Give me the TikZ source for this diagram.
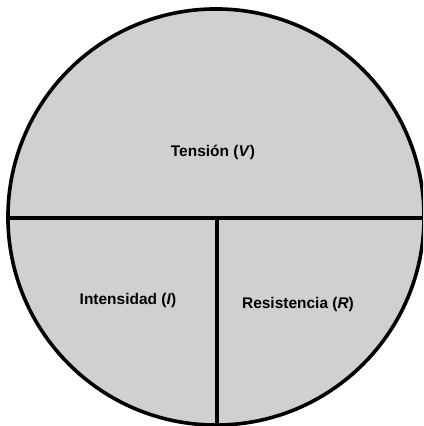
\documentclass[tikz,border=0pt]{standalone}
\usepackage{fontspec}
\setmainfont{Liberation Sans}
\usetikzlibrary{positioning}
\definecolor{discgray}{RGB}{208,208,208}

\begin{document}
\begin{tikzpicture}[
        x=0.025cm, y=-0.025cm,
        disc/.style={draw=black, fill=discgray, line width=0.9mm},
        divider/.style={draw=black, line width=0.8mm},
        quantity/.style={font=\fontsize{11}{13}\selectfont\bfseries, inner sep=1pt},
    ]
        \clip (0,0) rectangle (423,426);
        \fill[white] (0,0) rectangle (423,426);

        \coordinate (O) at (216,217);
        \draw[disc] (O) circle[radius=5.2cm];

        % dividing lines
        \coordinate (W) at (0,218);
        \coordinate (E) at (423,218);
        \coordinate (M) at (217,218);
        \coordinate (S) at (217,426);
        \begin{scope}
            \clip (O) circle[radius=5.2cm];
            \draw[divider] (W) -- (E);
            \draw[divider] (M) -- (S);
        \end{scope}

        \node[quantity] (V) at (213,152) {Tensión (\textit{V})};
        \node[quantity] (I) at (128,300) {Intensidad (\textit{I})};
        \node[quantity] (R) at (298,304) {Resistencia (\textit{R})};
    \end{tikzpicture}
\end{document}
